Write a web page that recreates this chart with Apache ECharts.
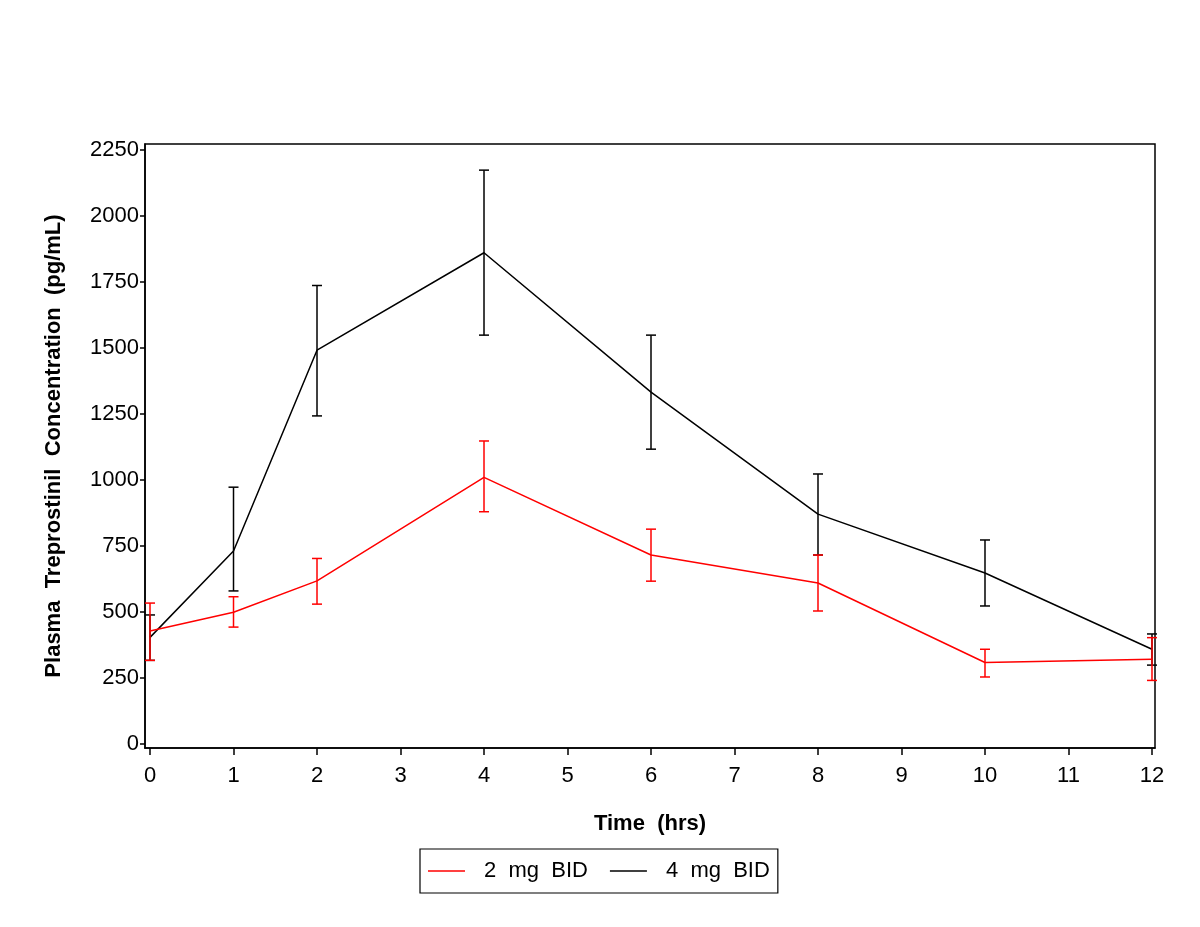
<!DOCTYPE html>
<html>
<head>
<meta charset="utf-8">
<script src="https://cdn.jsdelivr.net/npm/echarts@6/dist/echarts.min.js"></script>
<style>html,body{margin:0;padding:0;background:#fff}#c{width:1200px;height:927px}</style>
</head>
<body>
<div id="c"></div>
<script>
const times = [0, 1, 2, 4, 6, 8, 10, 12];
const mean2 = [428, 499, 618, 1010, 716, 610, 309, 321];
const lower2 = [317, 443, 530, 880, 617, 504, 254, 241];
const upper2 = [534, 558, 703, 1148, 814, 716, 359, 403];
const mean4 = [404, 731, 1492, 1861, 1333, 871, 648, 359];
const lower4 = [317, 580, 1243, 1549, 1117, 716, 523, 299];
const upper4 = [489, 973, 1737, 2174, 1549, 1023, 773, 417];
const xTicks = [0, 1, 2, 3, 4, 5, 6, 7, 8, 9, 10, 11, 12];
const yTicks = [0, 250, 500, 750, 1000, 1250, 1500, 1750, 2000, 2250];
const seriesNames = ['2  mg  BID', '4  mg  BID'];

const RED = '#ff0000', BLACK = '#000000';
const FONT = "'Liberation Sans', Arial, Helvetica, sans-serif";
const LINE_ICON = 'path://M0,0 L40,0 L40,1.5 L0,1.5 Z';

function errRender(color) {
  return function (params, api) {
    const x = api.value(0);
    const lo = api.coord([x, api.value(1)]);
    const hi = api.coord([x, api.value(2)]);
    const hw = 5;
    const st = { stroke: color, lineWidth: 1.5 };
    return {
      type: 'group',
      children: [
        { type: 'line', shape: { x1: lo[0], y1: lo[1], x2: hi[0], y2: hi[1] }, style: st },
        { type: 'line', shape: { x1: lo[0] - hw, y1: lo[1], x2: lo[0] + hw, y2: lo[1] }, style: st },
        { type: 'line', shape: { x1: hi[0] - hw, y1: hi[1], x2: hi[0] + hw, y2: hi[1] }, style: st }
      ]
    };
  };
}

const chart = echarts.init(document.getElementById('c'), null, { renderer: 'canvas' });
chart.setOption({
  animation: false,
  backgroundColor: '#fff',
  textStyle: { fontFamily: FONT, color: '#000' },
  grid: {
    left: 145, right: 45, top: 144, bottom: 179,
    show: true, borderColor: '#000', borderWidth: 1.5, backgroundColor: 'transparent'
  },
  legend: {
    data: seriesNames.map(n => ({ name: n, icon: LINE_ICON })),
    left: 420, top: 849,
    orient: 'horizontal',
    padding: [11, 8, 11, 8],
    borderColor: '#000', borderWidth: 1.2,
    itemWidth: 37, itemHeight: 1.5, itemGap: 22,
    textStyle: { fontFamily: FONT, fontSize: 22, color: '#000', padding: [0, 0, 0, 14] }
  },
  xAxis: {
    type: 'value', min: -0.06, max: 12.036,
    name: 'Time  (hrs)', nameLocation: 'middle', nameGap: 65,
    nameTextStyle: { fontFamily: FONT, fontSize: 22, fontWeight: 'bold', color: '#000' },
    axisLine: { show: true, onZero: false, lineStyle: { color: '#000', width: 1.5 } },
    axisTick: { show: true, customValues: xTicks, length: 7, lineStyle: { color: '#000', width: 1.5 } },
    axisLabel: { customValues: xTicks, margin: 17, fontFamily: FONT, fontSize: 22, color: '#000', formatter: v => String(v) },
    splitLine: { show: false }
  },
  yAxis: {
    type: 'value', min: -15, max: 2273,
    name: 'Plasma  Treprostinil  Concentration  (pg/mL)', nameLocation: 'middle', nameGap: 80,
    nameTextStyle: { fontFamily: FONT, fontSize: 22, fontWeight: 'bold', color: '#000' },
    axisLine: { show: true, onZero: false, lineStyle: { color: '#000', width: 1.5 } },
    axisTick: { show: true, customValues: yTicks, length: 5, lineStyle: { color: '#000', width: 1.5 } },
    axisLabel: { customValues: yTicks, margin: 6, fontFamily: FONT, fontSize: 22, color: '#000', formatter: v => String(v) },
    splitLine: { show: false }
  },
  series: [
    {
      name: seriesNames[1], type: 'line', symbol: 'none',
      data: times.map((t, i) => [t, mean4[i]]),
      lineStyle: { color: BLACK, width: 1.5 }, itemStyle: { color: BLACK }, z: 2
    },
    {
      name: seriesNames[1] + ' err', type: 'custom', renderItem: errRender(BLACK), clip: false,
      data: times.map((t, i) => [t, lower4[i], upper4[i]]), encode: { x: 0, y: [1, 2] }, z: 2
    },
    {
      name: seriesNames[0], type: 'line', symbol: 'none',
      data: times.map((t, i) => [t, mean2[i]]),
      lineStyle: { color: RED, width: 1.5 }, itemStyle: { color: RED }, z: 3
    },
    {
      name: seriesNames[0] + ' err', type: 'custom', renderItem: errRender(RED), clip: false,
      data: times.map((t, i) => [t, lower2[i], upper2[i]]), encode: { x: 0, y: [1, 2] }, z: 3
    }
  ]
});
</script>
</body>
</html>
